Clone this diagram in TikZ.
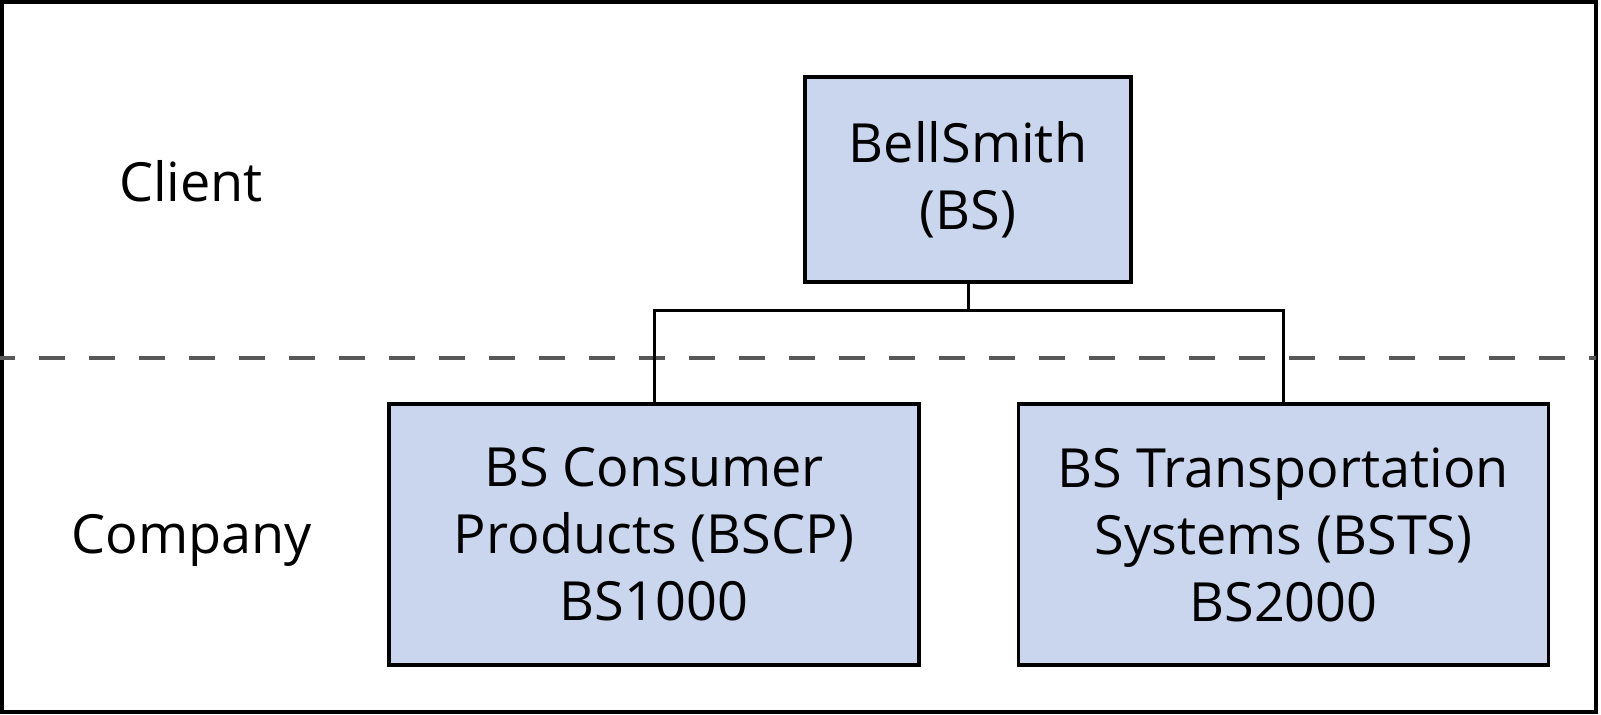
\documentclass[tikz,border=0pt]{standalone}
\usepackage{fontspec}
\setmainfont{Open Sans}
\definecolor{boxfill}{RGB}{202,214,237}
\definecolor{dashgray}{RGB}{88,88,88}
\begin{document}
\begin{tikzpicture}[x=0.5pt,y=-0.5pt,
  orgbox/.style={draw=black,line width=1.6pt,fill=boxfill,rectangle,inner sep=0pt,
    align=center,font=\fontsize{27}{33.5}\selectfont},
  lbl/.style={inner sep=0pt,font=\fontsize{27}{33.5}\selectfont},
  conn/.style={draw=black,line width=1.5pt}]
\useasboundingbox (0,0) rectangle (1601,715);
\node[draw=black,line width=2pt,rectangle,minimum width=797pt,minimum height=355pt,inner sep=0pt] (frame) at (799,357) {};
\coordinate (dl) at (0,358);
\coordinate (dr) at (1596,358);
\draw[dashgray,line width=2pt,dash pattern=on 13pt off 12pt,dash phase=5.5pt] (dl) -- (dr);
\node[orgbox,minimum width=163pt,minimum height=102.5pt] (top) at (968,179.5) {BellSmith\\(BS)};
\node[orgbox,minimum width=265pt,minimum height=130.5pt] (bl) at (654,534.5) {BS Consumer\\Products (BSCP)\\BS1000};
\node[orgbox,minimum width=265pt,minimum height=130.5pt] (br) at (1283.5,534.5) {BS Transportation\\Systems (BSTS)\\BS2000};
\node[lbl] (client) at (191,181) {Client};
\node[lbl] (company) at (192,540) {Company};
\coordinate (j) at (968,311);
\draw[conn] (top.south) -- (j);
\draw[conn] (j) -| (bl.north);
\draw[conn] (j) -| (br.north);
\end{tikzpicture}
\end{document}
